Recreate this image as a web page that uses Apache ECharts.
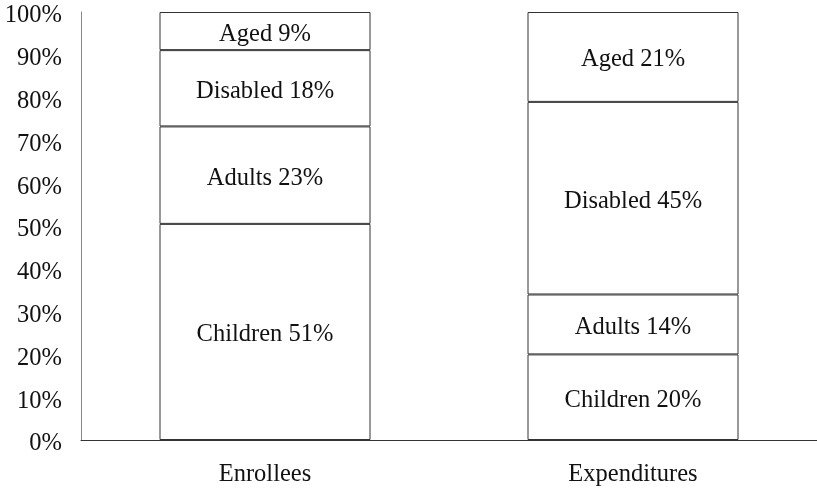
<!DOCTYPE html>
<html>
<head>
<meta charset="utf-8">
<style>
  html, body { margin: 0; padding: 0; background: #fff; }
  #chart { width: 817px; height: 489px; }
</style>
<script src="https://cdn.jsdelivr.net/npm/echarts@6/dist/echarts.min.js"></script>
</head>
<body>
<div id="chart"></div>
<script>
// Share of enrollees and expenditures by eligibility group (%)
const categories = ['Enrollees', 'Expenditures'];
const groups = ['Children', 'Adults', 'Disabled', 'Aged'];
const children = [51, 20];
const adults = [23, 14];
const disabled = [18, 45];
const aged = [9, 21];
const yTicks = [0, 10, 20, 30, 40, 50, 60, 70, 80, 90, 100];

const values = [children, adults, disabled, aged];
// each column is drawn as its share of the column total
const totals = categories.map((_, i) => values.reduce((s, v) => s + v[i], 0));

const font = '"Liberation Serif", "Times New Roman", serif';
const fontSize = 24.5;

const series = groups.map((name, g) => ({
  name: name,
  type: 'bar',
  stack: 'total',
  barWidth: 211,
  data: values[g].map((v, i) => ({ value: v / totals[i] * 100, raw: v })),
  itemStyle: { color: '#ffffff', borderColor: '#333333', borderWidth: 1 },
  label: {
    show: true,
    position: 'inside',
    offset: [0, 3],
    color: '#111111',
    fontFamily: font,
    fontSize: fontSize,
    formatter: p => name + ' ' + p.data.raw + '%'
  },
  emphasis: { disabled: true }
}));

const chart = echarts.init(document.getElementById('chart'), null, { renderer: 'canvas' });
chart.setOption({
  animation: false,
  backgroundColor: '#ffffff',
  grid: { left: 81, top: 12, width: 740, bottom: 49, containLabel: false },
  xAxis: {
    type: 'category',
    data: categories,
    axisLine: { lineStyle: { color: '#333333', width: 1 } },
    axisTick: { show: false },
    axisLabel: { color: '#111111', fontFamily: font, fontSize: fontSize, margin: 22 }
  },
  yAxis: {
    type: 'value',
    min: yTicks[0],
    max: yTicks[yTicks.length - 1],
    interval: yTicks[1] - yTicks[0],
    axisLine: { show: true, lineStyle: { color: '#888888', width: 1 } },
    axisTick: { show: false },
    splitLine: { show: false },
    axisLabel: {
      color: '#111111', fontFamily: font, fontSize: fontSize, margin: 19,
      formatter: '{t|{value}%}',
      rich: { t: { fontFamily: font, fontSize: fontSize, color: '#111111', padding: [8, 0, 0, 0] } }
    }
  },
  series: series
});
</script>
</body>
</html>
